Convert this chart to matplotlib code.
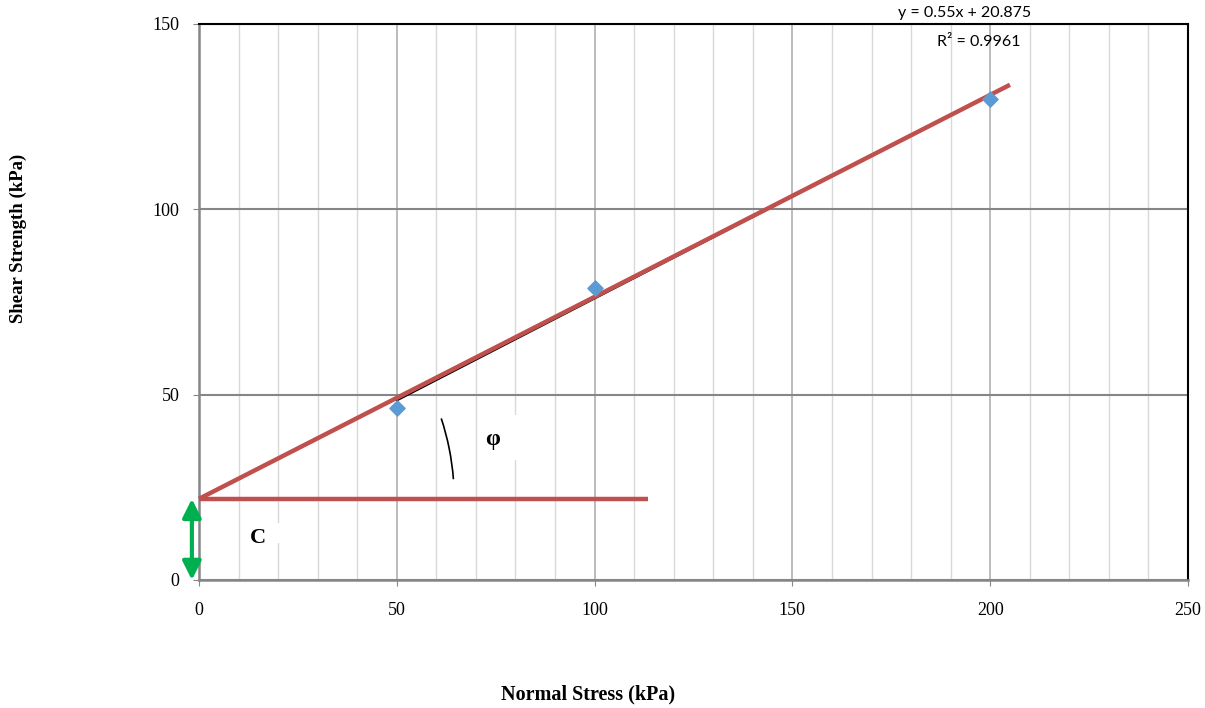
import numpy as np
import matplotlib.pyplot as plt
from matplotlib.patches import Arc, Rectangle
from matplotlib.transforms import Bbox, TransformedBbox

# measured points
normal_stress = [50, 100, 200]
shear_strength = [46.4, 78.8, 129.9]

# hand drawn failure envelope and the horizontal base line
envelope_x = [0, 205]
envelope_y = [21.9, 133.6]
base_x = [0, 113.5]
base_y = [21.9, 21.9]

eq_text = "y = 0.55x + 20.875"
r2_text = "R\u00b2 = 0.9961"

x_ticks = [0, 50, 100, 150, 200, 250]
y_ticks = [0, 50, 100, 150]

serif = "Liberation Serif"
red = "#C0504D"
blue = "#5B9BD5"
green = "#00B050"

fig = plt.figure(figsize=(12.05, 7.08), dpi=100)
ax = fig.add_axes([199 / 1205, 1 - 580 / 708, (1188 - 199) / 1205, (580 - 24) / 708])

ax.set_xlim(0, 250)
ax.set_ylim(0, 150)
ax.set_xticks(x_ticks)
ax.set_yticks(y_ticks)
ax.set_xticks(np.arange(0, 251, 10), minor=True)
ax.tick_params(axis="x", which="minor", length=0)
ax.tick_params(which="major", direction="out", length=4, color="#868686")
ax.tick_params(axis="x", pad=12)
ax.tick_params(axis="y", pad=10)
for lab in ax.get_xticklabels() + ax.get_yticklabels():
    lab.set_fontfamily(serif)
    lab.set_fontsize(13)

ax.set_axisbelow(True)
ax.grid(axis="x", which="minor", color="#d9d9d9", lw=1)
ax.grid(axis="x", which="major", color="#b0b0b0", lw=1.2)
ax.grid(axis="y", which="major", color="#868686", lw=1.5)

for s in ["left", "bottom"]:
    ax.spines[s].set_color("#868686")
    ax.spines[s].set_linewidth(1.8)
for s in ["top", "right"]:
    ax.spines[s].set_color("black")
    ax.spines[s].set_linewidth(1.5)

# excel style linear trendline over the data range
coef = np.polyfit(normal_stress, shear_strength, 1)
tx = np.array([min(normal_stress), max(normal_stress)])
ax.plot(tx, np.polyval(coef, tx), color="black", lw=1.1, zorder=3)

ax.plot(envelope_x, envelope_y, color=red, lw=3.2, zorder=4, clip_on=False,
        solid_capstyle="butt")
ax.plot(base_x, base_y, color=red, lw=3.2, zorder=4, clip_on=False,
        solid_capstyle="butt")

ax.scatter(normal_stress, shear_strength, marker="D", s=60, color=blue, zorder=5)

# angle arc
ax.add_patch(Arc((0, base_y[0]), 129, 138, theta1=4.7, theta2=19.5,
                 color="black", lw=1.2, zorder=3))

# white text boxes
ax.add_patch(Rectangle((70.5, 32.4), 10.1, 12.2, facecolor="white",
                       edgecolor="none", zorder=1))
ax.add_patch(Rectangle((10.5, 10.0), 10.3, 5.4, facecolor="white",
                       edgecolor="none", zorder=1))
ax.text(74.3, 37.8, "\u03c6", fontfamily=serif, fontsize=17, fontweight="bold",
        ha="center", va="center", zorder=6)
c_txt = ax.text(14.9, 11.4, "C", fontfamily=serif, fontsize=16, fontweight="bold",
                ha="center", va="center", zorder=6)
c_txt.set_clip_box(TransformedBbox(Bbox([[10.5, 10.0], [20.8, 15.4]]), ax.transData))
c_txt.set_clip_on(True)

# cohesion arrow
ax.annotate("", xy=(-1.8, 0), xytext=(-1.8, base_y[0]),
            arrowprops=dict(arrowstyle="<|-|>", color=green, lw=3,
                            mutation_scale=28, shrinkA=0, shrinkB=0),
            annotation_clip=False, zorder=6)

# trendline label
ax.text(193.6, 153, eq_text, fontfamily="Lato", fontsize=11.5,
        ha="center", va="center", clip_on=False)
ax.text(197, 145.1, r2_text, fontfamily="Lato", fontsize=11.5,
        ha="center", va="center", clip_on=False)

fig.text(588 / 1205, 1 - 694 / 708, "Normal Stress (kPa)", fontfamily=serif,
         fontsize=14.5, fontweight="bold", ha="center", va="center")
fig.text(18 / 1205, 1 - 238 / 708, "Shear Strength (kPa)", fontfamily=serif,
         fontsize=13.5, fontweight="bold", ha="center", va="center", rotation=90)

fig.savefig("out.png", dpi=100)
